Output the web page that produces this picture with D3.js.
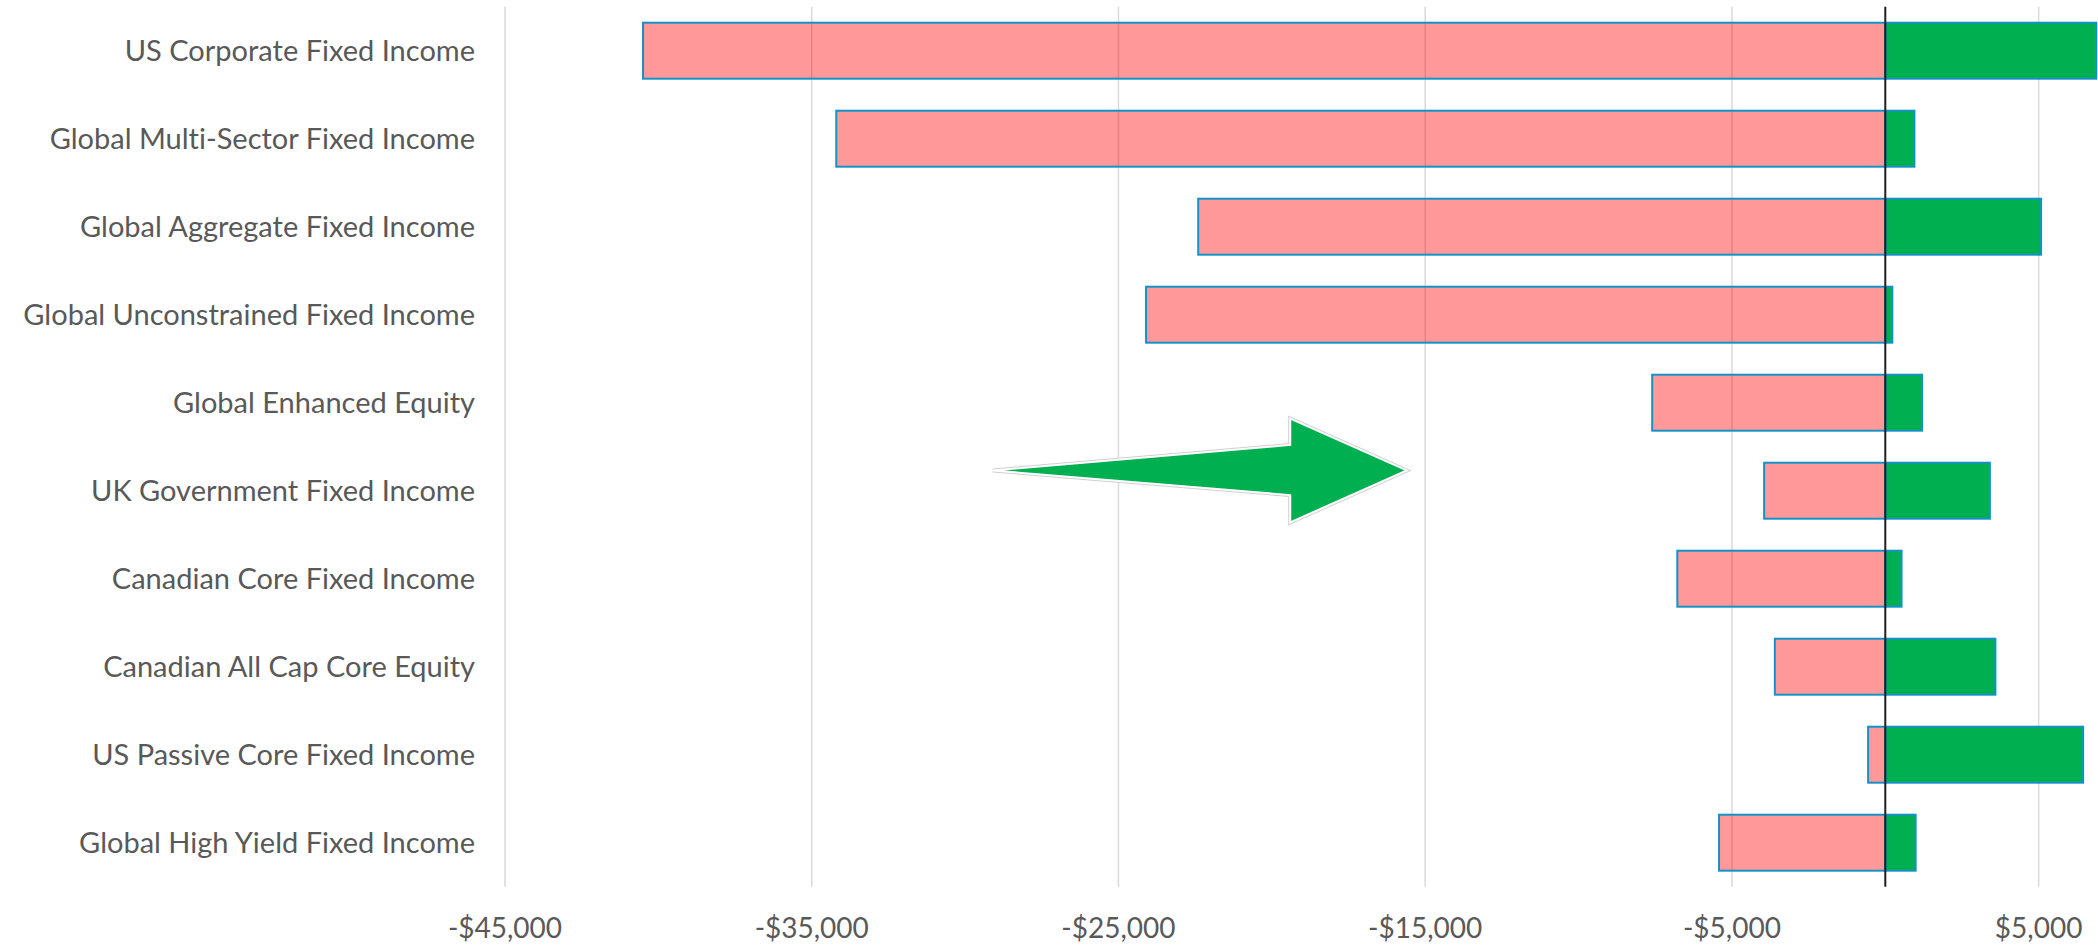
<!DOCTYPE html>
<html>
<head>
<meta charset="utf-8">
<script src="https://cdn.jsdelivr.net/npm/d3@7"></script>
<style>
  body { margin: 0; background: #fff; }
  svg { display: block; }
  text { font-family: Lato, 'Open Sans', sans-serif; fill: #595959; font-variant-ligatures: none; }
</style>
</head>
<body>
<main></main>
<script>
'use strict'

var categories = [
  'US Corporate Fixed Income',
  'Global Multi-Sector Fixed Income',
  'Global Aggregate Fixed Income',
  'Global Unconstrained Fixed Income',
  'Global Enhanced Equity',
  'UK Government Fixed Income',
  'Canadian Core Fixed Income',
  'Canadian All Cap Core Equity',
  'US Passive Core Fixed Income',
  'Global High Yield Fixed Income'
]
var losses = [-40500, -34200, -22400, -24100, -7600, -3950, -6780, -3600, -560, -5420]
var gains  = [6880, 950, 5080, 230, 1200, 3410, 530, 3590, 6450, 990]
var tickValues = [-45000, -35000, -25000, -15000, -5000, 5000]

// arrow annotation, x in dollars, y in row units
var arrowX = [-29100, -19400, -19400, -15600, -19400, -19400]
var arrowY = [4.77, 4.48, 4.18, 4.77, 5.36, 5.05]

var opts = {
  width: 2098,
  height: 945,
  top: 6.7,
  bottom: 886.7,
  left: 505,
  right: 2100
}

var rows = categories.map(function (c, i) {
  return { name: c, loss: losses[i], gain: gains[i] }
})

var svg = d3.select('main').append('svg')
  .attr('width', opts.width)
  .attr('height', opts.height)

var x = d3.scaleLinear()
  .domain([-45000, 7000])
  .range([opts.left, opts.right])

var y = d3.scaleBand()
  .domain(categories)
  .range([opts.top, opts.bottom])
  .paddingInner(0.364)
  .paddingOuter(0.182)

var rowY = d3.scaleLinear()
  .domain([0, 1])
  .range([y(categories[0]) + y.bandwidth() / 2, y(categories[1]) + y.bandwidth() / 2])

function money (v) {
  return (v < 0 ? '-$' : '$') + d3.format(',')(Math.abs(v))
}

// gridlines
svg.append('g').selectAll('line')
  .data(tickValues)
  .enter().append('line')
  .attr('x1', function (d) { return x(d) })
  .attr('x2', function (d) { return x(d) })
  .attr('y1', opts.top)
  .attr('y2', opts.bottom)
  .attr('stroke', '#d9d9d9')
  .attr('stroke-width', 1.5)

// negative bars (translucent, grid shows through)
svg.append('g').selectAll('rect')
  .data(rows)
  .enter().append('rect')
  .attr('x', function (d) { return x(d.loss) })
  .attr('y', function (d) { return y(d.name) })
  .attr('width', function (d) { return x(0) - x(d.loss) })
  .attr('height', y.bandwidth())
  .attr('fill', 'rgba(255,0,0,0.4)')
  .attr('stroke', '#1591c9')
  .attr('stroke-width', 2)

// positive bars
svg.append('g').selectAll('rect')
  .data(rows)
  .enter().append('rect')
  .attr('x', x(0))
  .attr('y', function (d) { return y(d.name) })
  .attr('width', function (d) { return x(d.gain) - x(0) })
  .attr('height', y.bandwidth())
  .attr('fill', '#00b050')
  .attr('stroke', '#1591c9')
  .attr('stroke-width', 2)

// zero axis
svg.append('line')
  .attr('x1', x(0)).attr('x2', x(0))
  .attr('y1', opts.top).attr('y2', opts.bottom)
  .attr('stroke', '#1f1f1f')
  .attr('stroke-width', 2)

// category labels
svg.append('g').selectAll('text')
  .data(categories)
  .enter().append('text')
  .attr('x', opts.left - 30)
  .attr('y', function (d) { return y(d) + y.bandwidth() / 2 })
  .attr('dy', '0.35em')
  .attr('text-anchor', 'end')
  .attr('font-size', 29)
  .text(function (d) { return d })

// tick labels
svg.append('g').selectAll('text')
  .data(tickValues)
  .enter().append('text')
  .attr('x', function (d) { return x(d) })
  .attr('y', 938)
  .attr('text-anchor', 'middle')
  .attr('font-size', 28)
  .text(money)

// arrow
var pts = arrowX.map(function (v, i) { return [x(v), rowY(arrowY[i])] })
var arrowLine = d3.line().curve(d3.curveLinearClosed)
svg.append('path')
  .attr('d', arrowLine(pts))
  .attr('fill', '#00b050')
  .attr('stroke', '#d0d0d0')
  .attr('stroke-width', 4)
  .attr('stroke-linejoin', 'miter')
svg.append('path')
  .attr('d', arrowLine(pts))
  .attr('fill', '#00b050')
  .attr('stroke', '#ffffff')
  .attr('stroke-width', 2)
  .attr('stroke-linejoin', 'miter')
</script>
</body>
</html>
